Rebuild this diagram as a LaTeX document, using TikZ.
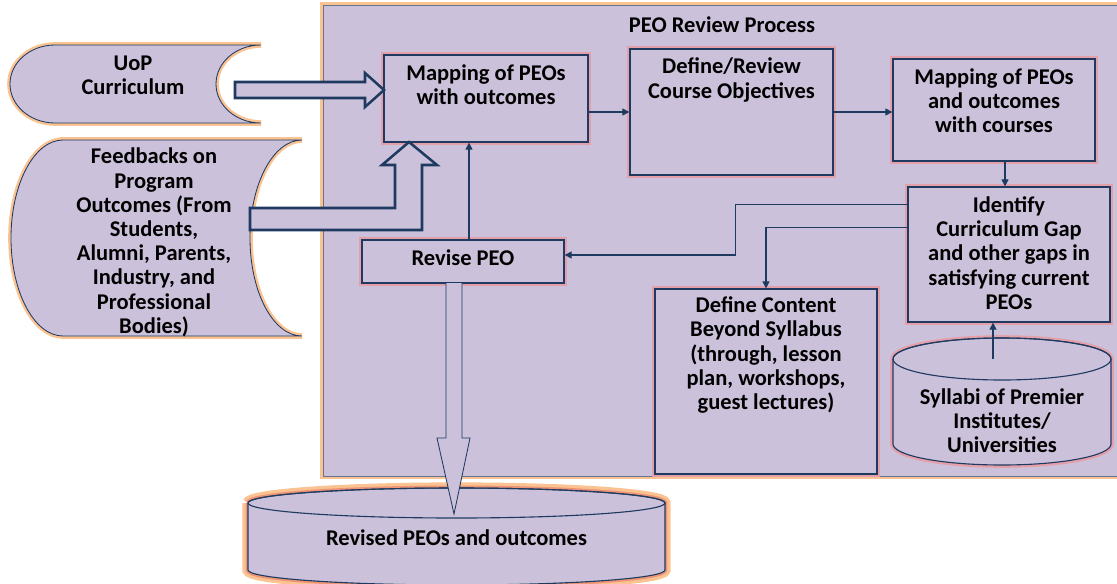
\documentclass[tikz,border=0pt]{standalone}
\usepackage{fontspec}
\setmainfont{Carlito}
\usetikzlibrary{arrows.meta,calc}
\definecolor{lav}{RGB}{204,193,218}
\definecolor{navy}{RGB}{31,58,96}
\definecolor{glowred}{RGB}{228,160,170}
\definecolor{glowor}{RGB}{250,195,145}
\tikzset{
  box/.style={draw=navy, line width=0.9pt, fill=lav, inner sep=0pt, preaction={draw=glowred, line width=4pt}},
  boxtext/.style={font=\bfseries\fontsize{16}{17.2}\selectfont, align=center, inner sep=0pt},
  link/.style={draw=navy, line width=0.8pt, -{Triangle[length=5pt,width=5pt]}},
  fatarrow/.style={draw=navy, line width=1.8pt, fill=lav, line join=miter},
  thinarrow/.style={draw=navy, line width=0.6pt, fill=lav},
  store/.style={draw=navy, line width=0.6pt, fill=lav, preaction={draw=glowor, line width=4pt}},
  drum/.style={draw=navy, line width=0.8pt, fill=lav, preaction={draw=glowred, line width=4pt}},
}
\begin{document}
\begin{tikzpicture}
\useasboundingbox (0,0) rectangle (27.925,-14.575);
\clip (0,0) rectangle (27.925,-14.575);
\draw[fill=lav, draw=navy!70, line width=0.6pt, preaction={draw=glowor, line width=4pt}] (8.075,-0.125) rectangle (28.5,-11.9);
\node[boxtext] (title) at (18.05,-0.625) {PEO Review Process};

\draw[store] (1.375,-1.125) -- (6.525,-1.125) arc[start angle=90, end angle=270, x radius=1.125, y radius=0.975]
  -- (1.375,-3.075) arc[start angle=270, end angle=90, x radius=1.125, y radius=0.975] -- cycle;
\node[boxtext] (uop) at (3.325,-1.875) {UoP\\Curriculum};
\draw[store] (1.575,-3.5) -- (7.55,-3.5) arc[start angle=90, end angle=270, x radius=1.3, y radius=2.45]
  -- (1.575,-8.4) arc[start angle=270, end angle=90, x radius=1.3, y radius=2.45] -- cycle;
\node[boxtext] (feedback) at (3.85,-6.06) {Feedbacks on\\Program\\Outcomes (From\\Students,\\Alumni, Parents,\\Industry, and\\Professional\\Bodies)};

\node[box, minimum width=5.1cm, minimum height=2.175cm] (mapA) at (12.15,-2.4625) {};
\node[boxtext] (mapAtxt) at (12.15,-2.125) {Mapping of PEOs\\with outcomes};
\node[box, minimum width=5.075cm, minimum height=3.15cm] (defObj) at (18.2875,-2.8) {};
\node[boxtext] (defObjtxt) at (18.2875,-2.0) {Define/Review\\Course Objectives};
\node[box, minimum width=5.05cm, minimum height=2.55cm] (mapB) at (24.85,-2.75) {};
\node[boxtext] (mapBtxt) at (24.85,-2.525) {Mapping of PEOs\\and outcomes\\with courses};
\node[box, minimum width=5.05cm, minimum height=3.375cm] (gap) at (25.225,-6.3625) {};
\node[boxtext] (gaptxt) at (25.225,-6.325) {Identify\\Curriculum Gap\\and other gaps in\\satisfying current\\PEOs};
\node[box, minimum width=5.05cm, minimum height=1.075cm] (revise) at (11.575,-6.5375) {};
\node[boxtext] (revisetxt) at (11.575,-6.45) {Revise PEO};
\node[box, minimum width=5.55cm, minimum height=4.625cm] (beyond) at (19.15,-9.5375) {};
\node[boxtext] (beyondtxt) at (19.15,-8.875) {Define Content\\Beyond Syllabus\\(through, lesson\\plan, workshops,\\guest lectures)};

\draw[drum] (22.325,-8.975) -- (22.325,-11.1) arc[start angle=180, end angle=360, x radius=2.725, y radius=0.525]
  -- (27.775,-8.975) arc[start angle=0, end angle=180, x radius=2.725, y radius=0.525];
\draw[navy, line width=0.8pt] (25.05,-8.975) ellipse [x radius=2.725, y radius=0.525];
\coordinate (syltop) at (25.05,-8.975);
\node[boxtext] (syllabi) at (25.05,-10.525) {Syllabi of Premier\\Institutes/\\Universities};

\draw[fatarrow] (5.875,-2.05) -- (9.125,-2.05) -- (9.125,-1.825) -- (9.6,-2.25) -- (9.125,-2.675) -- (9.125,-2.45) -- (5.875,-2.45) -- cycle;
\draw[fatarrow] (6.25,-5.2) -- (9.875,-5.2) -- (9.875,-4.125) -- (9.55,-4.125) -- (10.225,-3.55) -- (10.925,-4.125)
  -- (10.55,-4.125) -- (10.55,-5.75) -- (6.25,-5.75) -- cycle;

\draw[link] (defObj.west -| mapA.east) -- (defObj.west);
\draw[link] (defObj.east) -- (defObj.east -| mapB.west);
\draw[link] ([xshift=0.275cm]mapB.south) -- ([xshift=0.275cm]mapB.south |- gap.north);
\draw[link] ([yshift=-0.45cm]gap.north west) -- ++(-4.3,0) |- ([yshift=0.1625cm]revise.east);
\draw[link] ([yshift=-1.025cm]gap.north west) -| (beyond.north);
\draw[link] ([xshift=0.15cm]revise.north) -- ([xshift=0.15cm]revise.north |- mapA.south);
\draw[link] ([xshift=-0.225cm]syltop) -- ([xshift=-0.225cm]syltop |- gap.south);

\draw[fill=lav, draw=navy, line width=0.8pt, preaction={draw=glowor, line width=8pt}, preaction={draw=glowred!70!orange, line width=3.5pt}]
  (6.2,-12.575) -- (6.2,-14.25) arc[start angle=180, end angle=360, x radius=5.2125, y radius=0.375]
  -- (16.625,-12.575) arc[start angle=0, end angle=180, x radius=5.2125, y radius=0.375];
\draw[navy, line width=0.8pt] (11.4125,-12.575) ellipse [x radius=5.2125, y radius=0.375];
\node[boxtext] (revised) at (11.4125,-13.45) {Revised PEOs and outcomes};

\draw[thinarrow] (11.15,-7.075) -- (11.15,-10.95) -- (10.925,-10.95) -- (11.35,-12.85) -- (11.75,-10.95) -- (11.55,-10.95) -- (11.55,-7.075);
\end{tikzpicture}
\end{document}
